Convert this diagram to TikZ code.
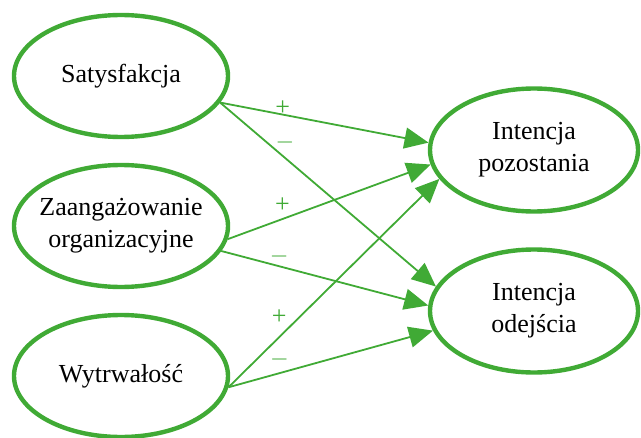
\documentclass[tikz,border=0pt]{standalone}
\usepackage{fontspec}
\setmainfont{Liberation Serif}
\usetikzlibrary{arrows.meta,shapes.geometric}
\definecolor{zielony}{RGB}{64,170,53}

\begin{document}
\begin{tikzpicture}[x=0.5pt,y=-0.5pt,font=\fontsize{13}{16}\selectfont,
  zmienna/.style={ellipse, draw=zielony, line width=2.2pt, minimum width=107pt,
    minimum height=61pt, inner xsep=-10pt, inner ysep=0pt, align=center},
  wynik/.style={zmienna, minimum width=104pt, minimum height=61.5pt},
  wplyw/.style={draw=zielony, line width=0.9pt, -{Triangle[length=12pt,width=10.5pt]}},
  znak/.style={text=zielony, font=\fontsize{13}{15}\selectfont, inner sep=0pt}]

\useasboundingbox (0,0) rectangle (641,438);

% predyktory
\node[zmienna] (sat) at (121,76) {Satysfakcja};
\node[zmienna] (zaa) at (121,226) {Zaangażowanie\\organizacyjne};
\node[zmienna] (wyt) at (121,376) {Wytrwałość};

% intencje
\node[wynik] (poz) at (534,150) {Intencja\\pozostania};
\node[wynik] (ode) at (534,311) {Intencja\\odejścia};

\draw[wplyw] (sat.-15) -- node[znak, pos=.3, yshift=3.2pt] (s1) {+} (poz.176);
\draw[wplyw] (sat.-15) -- node[znak, pos=.3, yshift=7.5pt] (s2) {$-$} (ode.166);

\draw[wplyw] (zaa.-7) -- node[znak, pos=.27, yshift=7pt] (z1) {+} (poz.188);
\draw[wplyw] (zaa.-14) -- node[znak, pos=.28, yshift=5pt] (z2) {$-$} (ode.177);

\draw[wplyw] (wyt.-6) -- node[znak, pos=.25, xshift=-1pt, yshift=9pt] (w1) {+} (poz.197);
\draw[wplyw] (wyt.-6) -- node[znak, pos=.25, yshift=7pt] (w2) {$-$} (ode.191);

\end{tikzpicture}
\end{document}
